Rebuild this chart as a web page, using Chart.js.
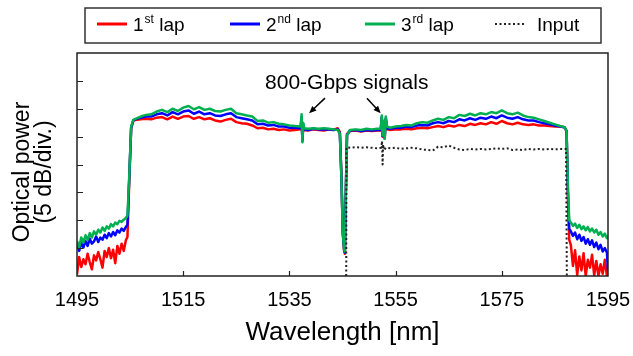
<!DOCTYPE html>
<html>
<head>
<meta charset="utf-8">
<title>Optical spectrum - laps</title>
<script src="https://cdn.jsdelivr.net/npm/chart.js@4/dist/chart.umd.min.js"></script>
<style>
    body { margin: 0; background: #fff; }
    #spectrum { display: block; }
</style>
</head>
<body>
<canvas id="spectrum" width="633" height="356"></canvas>
<script>
// DATA (relative power, 5 dB per division)
const seriesNames = ['1st lap', '2nd lap', '3rd lap', 'Input'];
const xTickValues = [1495, 1515, 1535, 1555, 1575, 1595];
const yTickValues = [0, 5, 10, 15, 20, 25, 30, 35, 40];

const lapWl = [
    1495.0, 1495.4, 1495.8, 1496.2, 1496.6, 1497.0, 1497.4, 1497.8, 1498.2, 1498.6,
    1499.0, 1499.4, 1499.8, 1500.2, 1500.6, 1501.0, 1501.4, 1501.8, 1502.2, 1502.6,
    1503.0, 1503.4, 1503.8, 1504.2, 1504.5,
    1504.8, 1505.2, 1505.6,
    1506, 1507, 1508, 1509, 1510, 1511, 1512, 1513, 1514, 1515, 1516, 1517, 1518, 1519, 1520,
    1521, 1522, 1523, 1524, 1525, 1526, 1527, 1528, 1529, 1530, 1531, 1532, 1533, 1534, 1535, 1536,
    1537.1, 1537.3, 1537.45, 1537.6, 1537.8,
    1538.5, 1539.5, 1540.5, 1541.5, 1542.5, 1543.3, 1544.1,
    1544.5, 1544.8, 1545.05, 1545.3, 1545.45, 1545.6, 1545.85,
    1546.4, 1547.5, 1548.5, 1549.5, 1550.5, 1551.5,
    1552.2, 1552.4, 1552.55, 1552.75, 1552.95, 1553.15, 1553.4,
    1554, 1555, 1556, 1557, 1558, 1559, 1560, 1561, 1562, 1563, 1564, 1565, 1566, 1567, 1568,
    1569, 1570, 1571, 1572, 1573, 1574, 1575, 1576, 1577, 1578, 1579, 1580, 1581, 1582, 1583,
    1584, 1585, 1586,
    1586.8, 1587.2,
    1587.45, 1587.7,
    1588.0, 1588.4, 1588.8, 1589.2, 1589.6, 1590.0, 1590.4, 1590.8, 1591.2, 1591.6,
    1592.0, 1592.4, 1592.8, 1593.2, 1593.6, 1594.0, 1594.4, 1594.8, 1595.0
];

const lap1 = [
    0.3, 3.4, 1.6, 3.0, 2.1, 4.0, 2.5, 1.2, 3.7, 2.8,
    4.3, 3.0, 1.5, 4.5, 3.4, 5.0, 3.2, 4.7, 2.3, 5.4,
    4.0, 5.8, 4.5, 6.4, 7.0,
    16.0, 26.5, 27.8,
    28.0, 28.1, 28.2, 28.1, 28.4, 28.5, 28.1, 28.6, 28.2, 28.6, 28.7, 28.2, 28.5, 28.1, 28.3,
    27.9, 27.7, 28.0, 28.2, 27.6, 27.4, 27.3, 27.0, 26.5, 26.6, 26.3, 26.4, 26.2, 26.3, 26.1, 26.2,
    26.3, 28.0, 24.5, 26.8, 26.2,
    26.1, 26.3, 26.2, 26.1, 26.3, 26.2, 26.5,
    25.8, 18.0, 8.0, 4.6, 4.0, 14.0, 25.5,
    26.0, 26.1, 25.9, 26.1, 26.0, 26.1,
    26.1, 28.2, 25.0, 27.2, 24.8, 28.0, 26.3,
    26.2, 26.3, 26.3, 26.4, 26.3, 26.5, 26.6, 26.5, 26.7, 26.9, 26.7, 27.0, 26.8, 27.1, 26.9,
    27.3, 27.1, 27.4, 27.2, 27.6, 27.3, 27.8, 27.4, 27.2, 27.5, 27.2, 27.1, 27.2, 27.0, 27.0,
    26.9, 26.8, 26.8,
    26.7, 26.0,
    14.0, 6.5,
    5.6, 1.8, 4.6, 0.2, 3.5, 1.0, 4.1, 0.0, 2.9, 1.5,
    3.8, 0.1, 2.7, 0.0, 2.1, 0.4, 2.9, 0.0, 1.0
];

const lap2 = [
    5.7, 4.5, 5.9, 5.1, 6.3, 5.4, 6.7, 5.8, 6.2, 7.1,
    6.1, 6.9, 6.5, 7.4, 6.8, 7.7, 7.1, 7.9, 7.3, 8.2,
    7.8, 8.5, 8.1, 8.8, 9.2,
    16.5, 26.6, 27.9,
    28.1, 28.4, 28.6, 28.6, 29.0, 29.2, 28.8, 29.4, 29.0, 29.5, 29.7, 29.1, 29.5, 29.0, 29.2,
    28.8, 28.7, 29.0, 29.2, 28.5, 28.3, 28.1, 27.9, 27.2, 27.3, 27.0, 27.1, 26.8, 26.8, 26.6, 26.6,
    26.5, 28.5, 24.2, 27.2, 26.3,
    26.2, 26.4, 26.3, 26.3, 26.3, 26.2, 26.3,
    25.6, 17.8, 7.8, 4.7, 4.2, 13.8, 25.3,
    26.1, 26.2, 26.0, 26.2, 26.1, 26.2,
    26.2, 28.5, 25.1, 27.5, 24.7, 28.3, 26.5,
    26.4, 26.6, 26.6, 26.8, 26.7, 27.0, 27.1, 27.0, 27.4, 27.6, 27.4, 27.8, 27.6, 28.1, 27.9,
    28.3, 28.0, 28.4, 28.2, 28.6, 28.3, 28.8, 28.4, 28.2, 28.5, 28.1, 27.9, 27.9, 27.6, 27.4,
    27.2, 27.0, 26.8,
    26.7, 26.0,
    15.0, 8.5,
    8.0, 7.2, 7.8, 6.6, 7.4, 6.3, 7.0, 5.8, 6.6, 5.6,
    6.4, 5.2, 6.0, 4.8, 5.6, 4.4, 5.0, 4.2, 1.0
];

const lap3 = [
    6.3, 5.1, 6.9, 6.0, 7.3, 6.5, 7.7, 6.9, 8.0, 7.4,
    8.3, 7.8, 8.7, 8.1, 8.9, 8.5, 9.3, 8.9, 9.6, 9.3,
    9.9, 9.7, 10.1, 10.4, 10.8,
    17.0, 26.8, 28.0,
    28.2, 28.6, 28.9, 29.0, 29.5, 29.8, 29.4, 30.0, 29.6, 30.2, 30.5, 29.9, 30.3, 29.8, 30.0,
    29.6, 29.5, 29.8, 30.0, 29.2, 29.0, 28.8, 28.6, 27.8, 27.9, 27.5, 27.6, 27.3, 27.2, 27.0, 26.9,
    26.8, 29.0, 24.0, 27.5, 26.5,
    26.4, 26.5, 26.4, 26.5, 26.4, 26.3, 26.2,
    25.5, 17.5, 7.6, 4.8, 4.4, 13.5, 25.2,
    26.2, 26.3, 26.2, 26.4, 26.3, 26.4,
    26.4, 28.8, 25.2, 27.8, 24.6, 28.6, 26.8,
    26.6, 26.8, 26.9, 27.1, 27.0, 27.4, 27.6, 27.5, 27.9, 28.2, 28.0, 28.5, 28.3, 28.9, 28.7,
    29.1, 28.8, 29.2, 29.0, 29.4, 29.2, 29.7, 29.2, 29.0, 29.3, 28.8, 28.5, 28.4, 28.1, 27.8,
    27.5, 27.2, 26.9,
    26.7, 26.0,
    16.0, 10.0,
    9.6, 9.0, 9.4, 8.6, 9.2, 8.4, 8.9, 8.2, 8.8, 8.0,
    8.5, 7.8, 8.3, 7.4, 7.9, 7.1, 7.6, 6.8, 7.2
];

const inputWl = [
    1545.7, 1545.75, 1546.5, 1547.5, 1548.5, 1549.5, 1550.5, 1551.5, 1552.3, 1552.45,
    1552.55, 1552.65, 1552.8, 1553.2, 1554, 1555, 1556, 1557, 1558, 1559,
    1560, 1561, 1562, 1563, 1564, 1565, 1566, 1567, 1568, 1569,
    1570, 1571, 1572, 1573, 1574, 1575, 1576, 1577, 1578, 1579,
    1580, 1581, 1582, 1583, 1584, 1585, 1586, 1587.1, 1587.25
];
const inputVal = [
    0.0, 23.1, 23.0, 23.1, 23.0, 23.1, 23.0, 22.9, 23.0, 24.2,
    20.0, 23.6, 22.6, 23.0, 22.9, 23.0, 22.8, 22.9, 23.0, 22.9,
    22.7, 22.6, 22.5, 23.2, 23.1, 23.4, 23.0, 22.7, 22.6, 22.8,
    22.7, 22.8, 22.7, 22.8, 22.9, 22.8, 22.9, 22.6, 22.7, 22.6,
    22.8, 22.7, 22.8, 22.7, 22.8, 22.7, 22.8, 22.8, 0.0
];

const FONT = "'Liberation Sans', Arial, sans-serif";

function toPoints(xs, ys) {
    return xs.map((x, i) => ({ x: x, y: ys[i] }));
}

// FRAME, TICKS, LEGEND, TITLES AND ANNOTATION
const decorPlugin = {
    id: 'decor',
    afterDatasetsDraw(chart) {
        const ctx = chart.ctx;
        const area = chart.chartArea;
        const xs = chart.scales.x;
        const ys = chart.scales.y;
        ctx.save();

        // plot frame
        ctx.strokeStyle = '#222';
        ctx.lineWidth = 1.5;
        ctx.strokeRect(area.left, area.top, area.right - area.left, area.bottom - area.top);

        // inward tick marks
        ctx.lineWidth = 1.2;
        ctx.beginPath();
        yTickValues.slice(1, -1).forEach(v => {
            const py = Math.round(ys.getPixelForValue(v)) + 0.5;
            ctx.moveTo(area.left, py);
            ctx.lineTo(area.left + 6, py);
        });
        xTickValues.slice(1, -1).forEach(v => {
            const px = Math.round(xs.getPixelForValue(v)) + 0.5;
            ctx.moveTo(px, area.bottom);
            ctx.lineTo(px, area.bottom - 5);
        });
        ctx.stroke();

        // y axis title (two lines, rotated)
        ctx.fillStyle = '#000';
        ctx.font = '23px ' + FONT;
        ctx.textAlign = 'center';
        ctx.textBaseline = 'middle';
        ctx.save();
        ctx.translate(23, 172);
        ctx.rotate(-Math.PI / 2);
        ctx.fillText('Optical power', 0, 0);
        ctx.fillText('(5 dB/div.)', 0, 22);
        ctx.restore();

        // annotation with arrows
        ctx.font = '21px ' + FONT;
        ctx.fillText('800-Gbps signals', xs.getPixelForValue(1545.8), ys.getPixelForValue(34.6));
        drawArrow(ctx, xs.getPixelForValue(1541.7), ys.getPixelForValue(31.9),
                       xs.getPixelForValue(1538.7), ys.getPixelForValue(29.2));
        drawArrow(ctx, xs.getPixelForValue(1549.6), ys.getPixelForValue(31.9),
                       xs.getPixelForValue(1552.2), ys.getPixelForValue(29.2));

        drawLegend(chart);
        ctx.restore();
    }
};

function drawArrow(ctx, x1, y1, x2, y2) {
    const ang = Math.atan2(y2 - y1, x2 - x1);
    const head = 8;
    ctx.strokeStyle = '#000';
    ctx.fillStyle = '#000';
    ctx.lineWidth = 1.5;
    ctx.beginPath();
    ctx.moveTo(x1, y1);
    ctx.lineTo(x2 - Math.cos(ang) * 4, y2 - Math.sin(ang) * 4);
    ctx.stroke();
    ctx.beginPath();
    ctx.moveTo(x2, y2);
    ctx.lineTo(x2 - head * Math.cos(ang - 0.4), y2 - head * Math.sin(ang - 0.4));
    ctx.lineTo(x2 - head * Math.cos(ang + 0.4), y2 - head * Math.sin(ang + 0.4));
    ctx.closePath();
    ctx.fill();
}

function drawLegend(chart) {
    const ctx = chart.ctx;
    const box = { left: 85, top: 8, right: 601, bottom: 43 };
    const lineStarts = [97, 230, 365, 495];
    const midY = 24;

    ctx.fillStyle = '#fff';
    ctx.fillRect(box.left, box.top, box.right - box.left, box.bottom - box.top);
    ctx.strokeStyle = '#333';
    ctx.lineWidth = 1.5;
    ctx.strokeRect(box.left, box.top, box.right - box.left, box.bottom - box.top);

    chart.data.datasets.forEach((ds, i) => {
        const x0 = lineStarts[i];
        ctx.save();
        ctx.strokeStyle = ds.borderColor;
        ctx.lineWidth = i === 3 ? 2 : 3;
        ctx.setLineDash(ds.borderDash || []);
        ctx.beginPath();
        ctx.moveTo(x0, midY);
        ctx.lineTo(x0 + 30, midY);
        ctx.stroke();
        ctx.restore();

        // label, with ordinal suffix raised
        const name = seriesNames[i];
        const m = name.match(/^(\d+)(st|nd|rd|th)(.*)$/);
        let tx = x0 + (i === 3 ? 42 : 36);
        ctx.fillStyle = '#000';
        ctx.textAlign = 'left';
        ctx.textBaseline = 'alphabetic';
        ctx.font = '19px ' + FONT;
        if (m) {
            ctx.fillText(m[1], tx, midY + 7);
            tx += ctx.measureText(m[1]).width;
            ctx.font = '12px ' + FONT;
            ctx.fillText(m[2], tx + 1, midY - 1);
            tx += ctx.measureText(m[2]).width + 1;
            ctx.font = '19px ' + FONT;
            ctx.fillText(m[3], tx, midY + 7);
        } else {
            ctx.fillText(name, tx, midY + 7);
        }
    });
}

// CHART DRAWING
function drawChart() {
    const canvas = document.getElementById('spectrum');
    const ctx = canvas.getContext('2d');

    new Chart(ctx, {
        type: 'line',
        data: {
            datasets: [
                { label: seriesNames[0], data: toPoints(lapWl, lap1), borderColor: '#ff0000', borderWidth: 2.5, order: 3 },
                { label: seriesNames[1], data: toPoints(lapWl, lap2), borderColor: '#0000ff', borderWidth: 2.5, order: 2 },
                { label: seriesNames[2], data: toPoints(lapWl, lap3), borderColor: '#00b050', borderWidth: 2.5, order: 1 },
                { label: seriesNames[3], data: toPoints(inputWl, inputVal), borderColor: '#222222', borderWidth: 2, borderDash: [2, 2.5], order: 0 }
            ]
        },
        options: {
            responsive: false,
            animation: false,
            events: [],
            layout: { padding: { top: 53, right: 25, left: 0, bottom: 0 } },
            elements: {
                point: { radius: 0 },
                line: { tension: 0, borderJoinStyle: 'round' }
            },
            plugins: {
                legend: { display: false },
                tooltip: { enabled: false }
            },
            scales: {
                x: {
                    type: 'linear',
                    min: 1495,
                    max: 1595,
                    afterBuildTicks: scale => { scale.ticks = xTickValues.map(v => ({ value: v })); },
                    afterFit: scale => {
                        // keep the plot box fixed; the end labels may hang over the padding
                        scale.height = 80;
                        scale.paddingLeft = 0;
                        scale.paddingRight = 0;
                    },
                    ticks: {
                        color: '#000',
                        font: { family: FONT, size: 20 },
                        padding: 12,
                        maxRotation: 0,
                        autoSkip: false,
                        callback: v => String(v)
                    },
                    grid: { display: false, drawTicks: false },
                    border: { display: false },
                    title: {
                        display: true,
                        text: 'Wavelength [nm]',
                        color: '#000',
                        font: { family: FONT, size: 26 },
                        padding: { top: 0, bottom: 8 }
                    }
                },
                y: {
                    min: 0,
                    max: 40,
                    afterBuildTicks: scale => { scale.ticks = yTickValues.map(v => ({ value: v })); },
                    afterFit: scale => { scale.width = 77; },
                    ticks: { display: false },
                    grid: { display: false, drawTicks: false },
                    border: { display: false }
                }
            }
        },
        plugins: [decorPlugin]
    });
}

document.addEventListener('DOMContentLoaded', function() {
    drawChart();
});
</script>
</body>
</html>
